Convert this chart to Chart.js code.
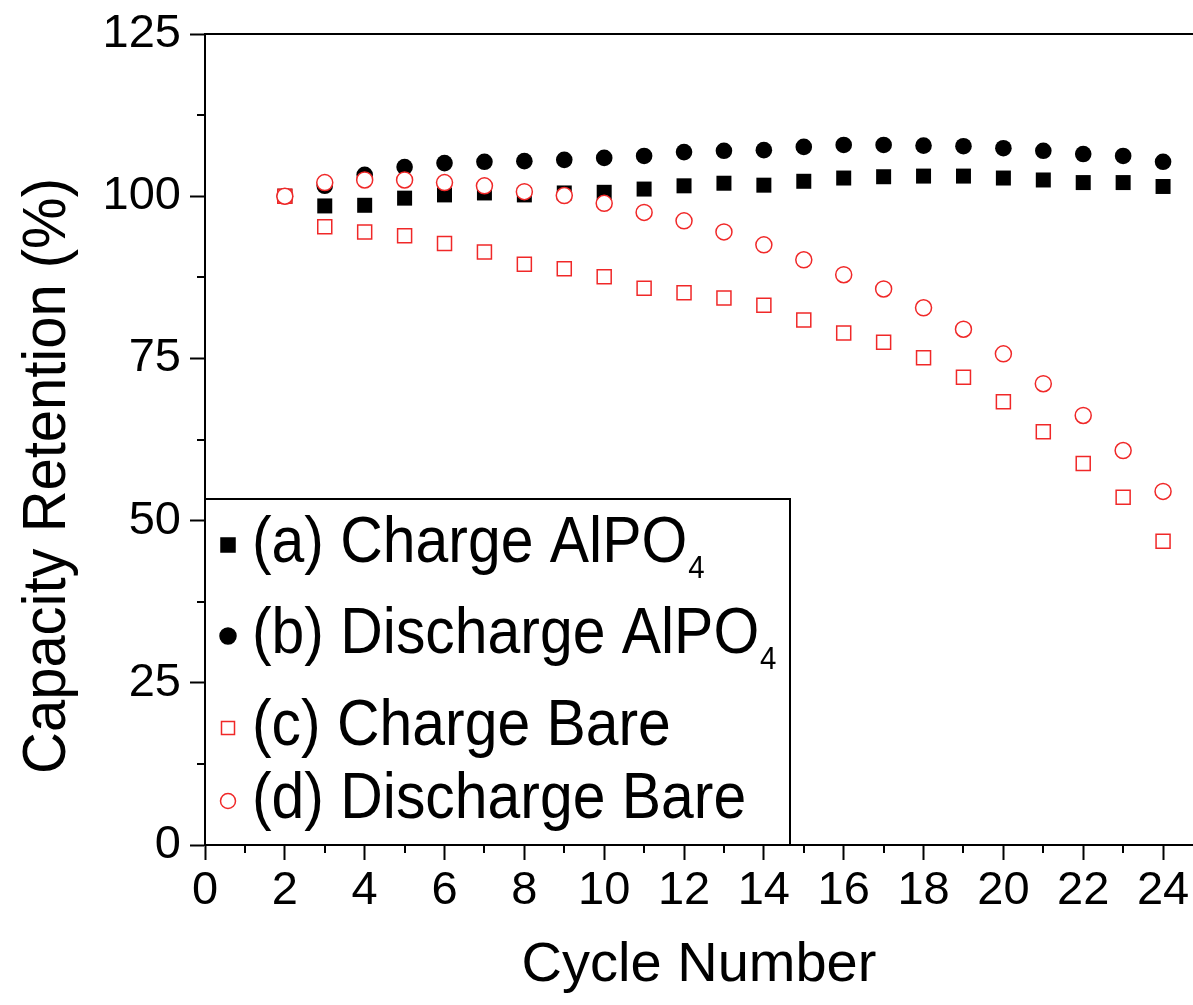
<!DOCTYPE html>
<html>
<head>
<meta charset="utf-8">
<script src="https://cdn.jsdelivr.net/npm/chart.js@4.4.0/dist/chart.umd.min.js"></script>
<style>
  html, body { margin: 0; padding: 0; background: #fff; }
</style>
</head>
<body>
<canvas id="capChart" width="1193" height="1005"></canvas>
<script>
var cycles = [2, 3, 4, 5, 6, 7, 8, 9, 10, 11, 12, 13, 14, 15, 16, 17, 18, 19, 20, 21, 22, 23, 24];
var chargeAlPO4 = [100, 98.5, 98.6, 99.7, 100.2, 100.5, 100.2, 100.5, 100.6, 101.1, 101.6, 102.0, 101.7, 102.3, 102.8, 103.0, 103.1, 103.1, 102.8, 102.5, 102.1, 102.1, 101.5];
var dischargeAlPO4 = [100, 101.6, 103.3, 104.5, 105.1, 105.3, 105.4, 105.6, 105.9, 106.2, 106.8, 107.0, 107.1, 107.6, 107.9, 107.9, 107.8, 107.7, 107.4, 107.0, 106.5, 106.2, 105.3];
var chargeBare = [100, 95.3, 94.5, 93.9, 92.7, 91.4, 89.5, 88.8, 87.6, 85.8, 85.1, 84.3, 83.2, 80.9, 78.9, 77.5, 75.1, 72.1, 68.3, 63.7, 58.8, 53.6, 46.8];
var dischargeBare = [100, 102.1, 102.5, 102.5, 102.1, 101.6, 100.7, 100.1, 98.9, 97.5, 96.2, 94.5, 92.5, 90.2, 87.9, 85.7, 82.8, 79.5, 75.7, 71.1, 66.2, 60.8, 54.5];

var yTitle = "Capacity Retention (%)";
var legendItems = [
  { text: "(a) Charge AlPO", sub: "4", style: "rect", fill: "#000", stroke: "#000", size: 7 },
  { text: "(b) Discharge AlPO", sub: "4", style: "circle", fill: "#000", stroke: "#000", size: 8 },
  { text: "(c) Charge Bare", sub: "", style: "rect", fill: "#fff", stroke: "#f02828", size: 6.5 },
  { text: "(d) Discharge Bare", sub: "", style: "circle", fill: "#fff", stroke: "#f02828", size: 7.5 }
];
var legendRows = [63, 154, 246, 319];

var RED = "#f02828";
var FONT = "'Liberation Sans', Arial, sans-serif";

function pts(ys) {
  return cycles.map(function (c, i) { return { x: c, y: ys[i] }; });
}

// minor ticks (odd cycles, half steps of y)
var minorTicks = {
  id: "minorTicks",
  afterDraw: function (chart) {
    var ctx = chart.ctx, xs = chart.scales.x, ys = chart.scales.y;
    ctx.save();
    ctx.strokeStyle = "#000";
    ctx.lineWidth = 2;
    ctx.beginPath();
    for (var v = 1; v < xs.max; v += 2) {
      var px = Math.round(xs.getPixelForValue(v));
      ctx.moveTo(px, xs.top);
      ctx.lineTo(px, xs.top + 8);
    }
    for (var w = 12.5; w < ys.max; w += 25) {
      var py = Math.round(ys.getPixelForValue(w));
      ctx.moveTo(ys.right, py);
      ctx.lineTo(ys.right - 8, py);
    }
    ctx.stroke();

    // y axis title, slightly condensed like the original
    ctx.save();
    ctx.translate(65, 476);
    ctx.rotate(-Math.PI / 2);
    ctx.scale(0.95, 1);
    ctx.fillStyle = "#000";
    ctx.font = "61px " + FONT;
    ctx.textAlign = "center";
    ctx.textBaseline = "alphabetic";
    ctx.fillText(yTitle, 0, 0);
    ctx.restore();
    ctx.restore();
  }
};

// legend box inside plot, bottom-left
var boxLegend = {
  id: "boxLegend",
  afterDraw: function (chart) {
    var ctx = chart.ctx, a = chart.chartArea;
    var left = a.left, bottom = a.bottom, w = 585, h = 346;
    var top = bottom - h;
    ctx.save();
    ctx.fillStyle = "#fff";
    ctx.fillRect(left, top, w, h);
    ctx.strokeStyle = "#000";
    ctx.lineWidth = 2;
    ctx.strokeRect(left, top, w, h);
    legendItems.forEach(function (it, i) {
      var base = top + legendRows[i];
      var mx = left + 23, my = base - 17;
      ctx.fillStyle = it.fill;
      ctx.strokeStyle = it.stroke;
      ctx.lineWidth = 1.5;
      ctx.beginPath();
      if (it.style === "rect") {
        ctx.rect(mx - it.size, my - it.size, it.size * 2, it.size * 2);
      } else {
        ctx.arc(mx, my, it.size, 0, Math.PI * 2);
      }
      ctx.fill();
      ctx.stroke();

      ctx.save();
      ctx.translate(left + 47, base);
      ctx.scale(0.92, 1);
      ctx.fillStyle = "#000";
      ctx.textBaseline = "alphabetic";
      ctx.font = "64px " + FONT;
      ctx.fillText(it.text, 0, 0);
      if (it.sub) {
        var tw = ctx.measureText(it.text).width;
        ctx.font = "32px " + FONT;
        ctx.fillText(it.sub, tw + 1, 16);
      }
      ctx.restore();
    });
    ctx.restore();
  }
};

Chart.defaults.color = "#000";
Chart.defaults.font.family = FONT;

new Chart("capChart", {
  type: "scatter",
  data: {
    datasets: [
      {
        label: "(a) Charge AlPO4",
        data: pts(chargeAlPO4),
        pointStyle: "rect",
        pointRadius: 10.6,
        backgroundColor: "#000",
        borderColor: "#000",
        borderWidth: 0,
        order: 2
      },
      {
        label: "(b) Discharge AlPO4",
        data: pts(dischargeAlPO4),
        pointStyle: "circle",
        pointRadius: 8.3,
        backgroundColor: "#000",
        borderColor: "#000",
        borderWidth: 0,
        order: 2
      },
      {
        label: "(c) Charge Bare",
        data: pts(chargeBare),
        pointStyle: "rect",
        pointRadius: 9.9,
        backgroundColor: "#fff",
        borderColor: RED,
        borderWidth: 1.5,
        order: 1
      },
      {
        label: "(d) Discharge Bare",
        data: pts(dischargeBare),
        pointStyle: "circle",
        pointRadius: 8,
        backgroundColor: "#fff",
        borderColor: RED,
        borderWidth: 1.5,
        order: 0
      }
    ]
  },
  options: {
    responsive: false,
    animation: false,
    devicePixelRatio: 1,
    layout: { padding: 0, autoPadding: false },
    plugins: {
      legend: { display: false },
      tooltip: { enabled: false }
    },
    elements: { point: { hoverRadius: 8 } },
    scales: {
      x: {
        type: "linear",
        position: "bottom",
        min: 0,
        max: 24.75,
        afterFit: function (s) { s.height = 160; s.paddingLeft = 0; s.paddingRight = 0; },
        border: { display: true, color: "#000", width: 2 },
        grid: { drawOnChartArea: false, drawTicks: true, tickLength: 15, tickWidth: 2, tickColor: "#000" },
        ticks: { stepSize: 2, includeBounds: false, padding: 3, font: { size: 47 } },
        title: { display: true, text: "Cycle Number", font: { size: 56 }, padding: { top: 0, bottom: 6 } }
      },
      x2: {
        type: "linear",
        position: "top",
        min: 0,
        max: 24.75,
        afterFit: function (s) { s.height = 34; s.paddingLeft = 0; s.paddingRight = 0; },
        border: { display: true, color: "#000", width: 2 },
        grid: { display: false },
        ticks: { display: false }
      },
      y: {
        type: "linear",
        position: "left",
        min: 0,
        max: 125,
        afterFit: function (s) { s.width = 205; s.paddingTop = 0; s.paddingBottom = 0; },
        border: { display: true, color: "#000", width: 2 },
        grid: { drawOnChartArea: false, drawTicks: true, tickLength: 15, tickWidth: 2, tickColor: "#000" },
        ticks: { stepSize: 25, padding: 9, font: { size: 47 } }
      }
    }
  },
  plugins: [minorTicks, boxLegend]
});
</script>
</body>
</html>
